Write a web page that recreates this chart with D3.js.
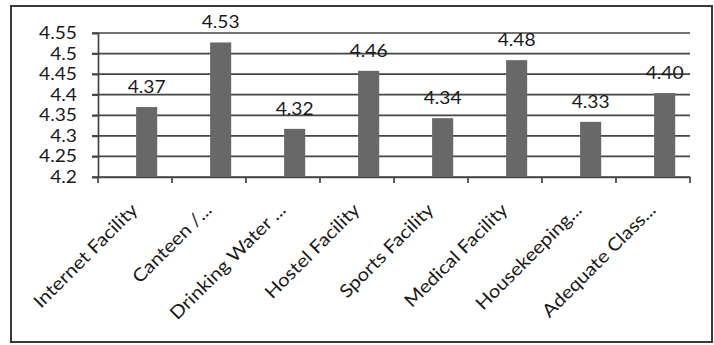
<!DOCTYPE html>
<html><head><meta charset="utf-8">
<script src="https://cdn.jsdelivr.net/npm/d3@7"></script>
<style>body{margin:0;background:#fff}svg{display:block}text{font-family:Lato,"Open Sans",sans-serif;fill:#1a1a1a}</style>
</head><body><svg id="c" width="714" height="345"></svg>
<script>
const categories = ["Internet Facility","Canteen /...","Drinking Water ...","Hostel Facility","Sports Facility","Medical Facility","Housekeeping...","Adequate Class..."];
const values = [4.37, 4.527, 4.317, 4.458, 4.343, 4.484, 4.334, 4.404];
const yTicks = [4.2, 4.25, 4.3, 4.35, 4.4, 4.45, 4.5, 4.55];
const yTickLabels = ["4.2","4.25","4.3","4.35","4.4","4.45","4.5","4.55"];

const SX = 1.13; // horizontal stretch of the scanned text
const svg = d3.select("#c");
svg.append("rect").attr("x",11).attr("y",6).attr("width",701).attr("height",336)
  .attr("fill","#fff").attr("stroke","#3a3a3a").attr("stroke-width",2);

const m = {left:98, right:690, top:33, bottom:177};
const x = d3.scaleBand().domain(categories).range([m.left, m.right]);
const y = d3.scaleLinear().domain([4.2, 4.55]).range([m.bottom, m.top]);
const stroke = "#454545";

// gridlines
svg.append("g").selectAll("line").data(yTicks).join("line")
  .attr("x1", m.left-6).attr("x2", m.right).attr("y1", d=>y(d)).attr("y2", d=>y(d))
  .attr("stroke",stroke).attr("stroke-width",1.7);

// y axis
const ya = svg.append("g").attr("transform",`translate(${m.left},0)`)
  .call(d3.axisLeft(y).tickValues(yTicks).tickFormat("").tickSize(6));
ya.select(".domain").attr("stroke",stroke).attr("stroke-width",1.7);
ya.selectAll(".tick line").attr("stroke",stroke).attr("stroke-width",1.7);
svg.append("g").selectAll("text").data(yTicks).join("text")
  .attr("transform",d=>`translate(${m.left-21},${y(d)+6}) scale(${SX},1)`)
  .attr("text-anchor","end").attr("font-size",17)
  .text((d,i)=>yTickLabels[i]);

// x axis
const xa = svg.append("g").attr("transform",`translate(0,${m.bottom})`)
  .call(d3.axisBottom(x).tickSize(0).tickFormat(""));
xa.select(".domain").attr("stroke",stroke).attr("stroke-width",1.7);
const bounds = categories.map(c=>x(c)).concat([m.right]);
svg.append("g").selectAll("line").data(bounds).join("line")
  .attr("x1",d=>d).attr("x2",d=>d).attr("y1",m.bottom).attr("y2",m.bottom+6)
  .attr("stroke",stroke).attr("stroke-width",1.7);

// bars
const bw = x.bandwidth();
svg.append("g").selectAll("rect").data(values).join("rect")
  .attr("x",(d,i)=>x(categories[i])+bw*0.515)
  .attr("width",bw*0.285)
  .attr("y",d=>y(d)).attr("height",d=>m.bottom-y(d))
  .attr("fill","#686868");

// value labels
svg.append("g").selectAll("text").data(values).join("text")
  .attr("transform",(d,i)=>`translate(${x(categories[i])+bw*0.6575},${y(d)-14}) scale(${SX},1)`)
  .attr("text-anchor","middle").attr("font-size",17)
  .text(d=>d.toFixed(2));

// category labels
svg.append("g").selectAll("text").data(categories).join("text")
  .attr("transform",(d)=>`translate(${x(d)+bw/2+4},${m.bottom+34}) rotate(-45) scale(${SX},1)`)
  .attr("text-anchor","end").attr("font-size",18)
  .text(d=>d);
</script></body></html>
